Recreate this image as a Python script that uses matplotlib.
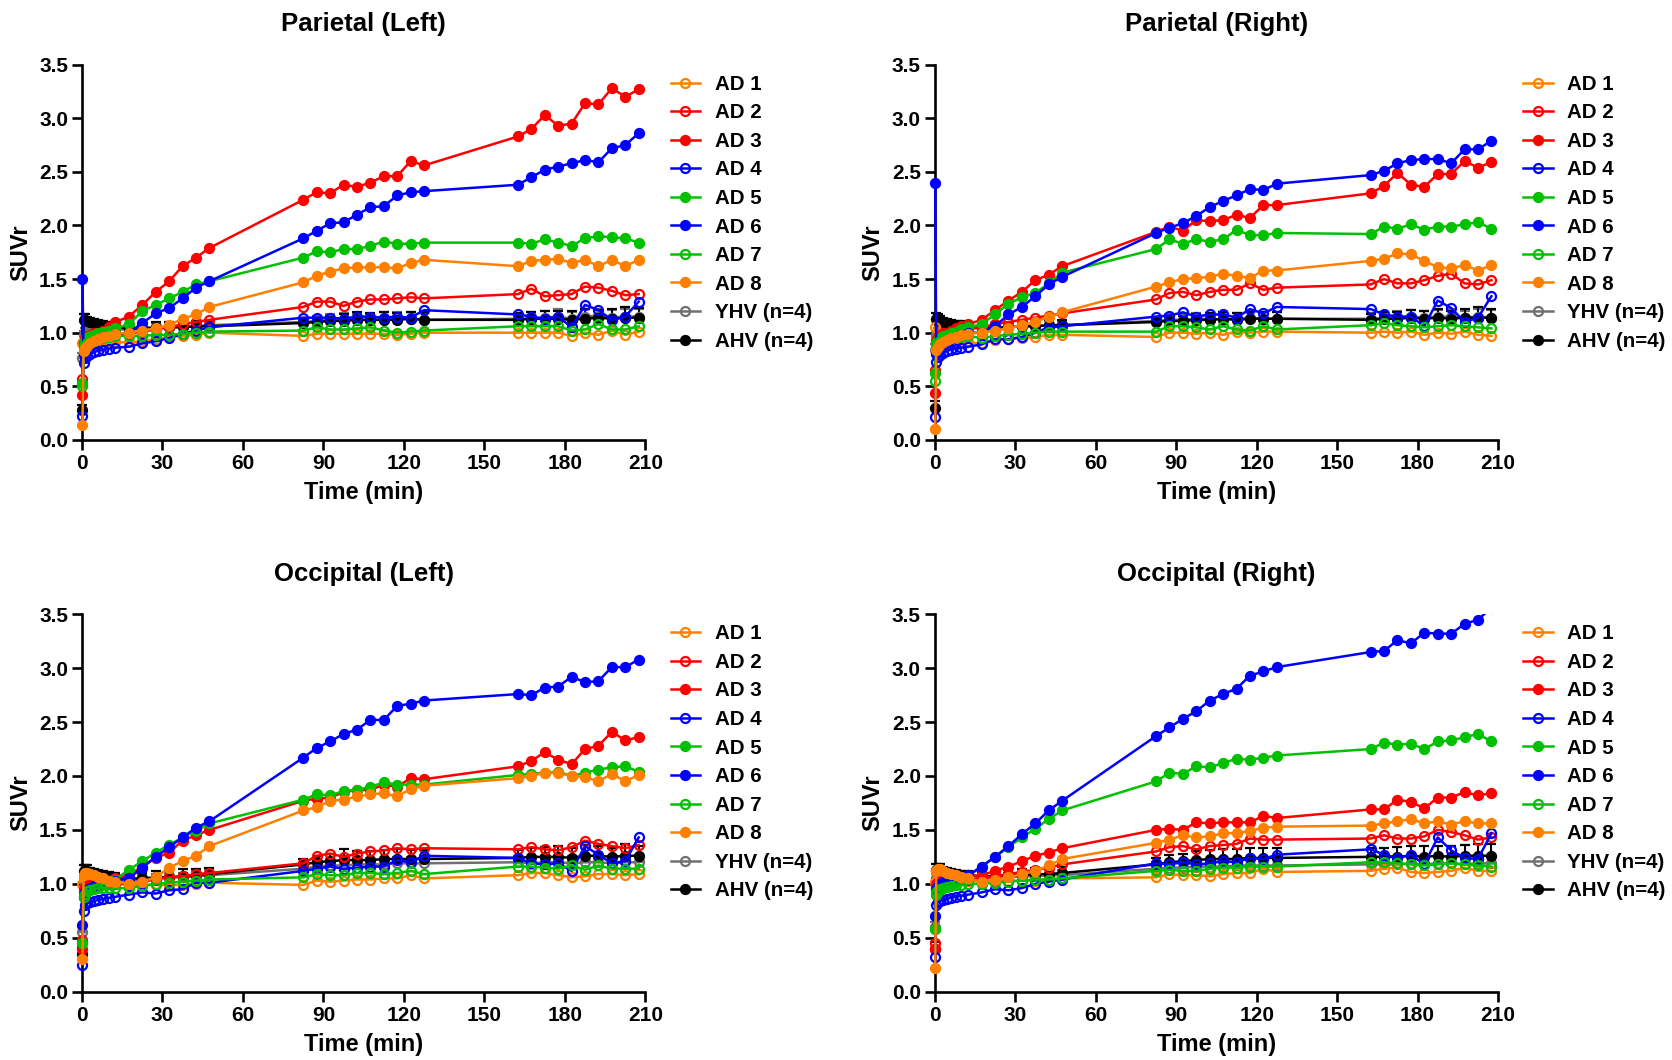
import matplotlib
matplotlib.use("Agg")
import matplotlib.pyplot as plt
from matplotlib.lines import Line2D
from matplotlib.patches import Rectangle

plt.rcParams["font.family"] = ["Liberation Sans", "DejaVu Sans"]
plt.rcParams["font.weight"] = "bold"

# frame mid-times (min)
t_min = [0.2, 0.6, 1.2, 2, 3, 4.5, 6, 8, 10, 12.5,
         17.5, 22.5, 27.5, 32.5, 37.5, 42.5, 47.5,
         82.5, 87.5, 92.5, 97.5, 102.5, 107.5, 112.5, 117.5, 122.5, 127.5,
         162.5, 167.5, 172.5, 177.5, 182.5, 187.5, 192.5, 197.5, 202.5, 207.5]

series_labels = ["AD 1", "AD 2", "AD 3", "AD 4", "AD 5", "AD 6", "AD 7", "AD 8"]
control_labels = ["YHV (n=4)", "AHV (n=4)"]
panel_titles = ["Parietal (Left)", "Parietal (Right)", "Occipital (Left)", "Occipital (Right)"]
x_ticks = [0, 30, 60, 90, 120, 150, 180, 210]
y_ticks = [0.0, 0.5, 1.0, 1.5, 2.0, 2.5, 3.0, 3.5]

# ---- Parietal (Left)
pl_ad1 = [0.90, 0.83, 0.85, 0.87, 0.88, 0.89, 0.90, 0.90, 0.91, 0.91, 0.91, 0.92, 0.94, 0.96, 0.97, 0.98, 1.00,
          0.97, 0.99, 0.99, 0.99, 0.99, 0.99, 0.99, 0.98, 0.99, 1.00, 1.00, 1.00, 1.00, 1.00, 0.97, 1.00, 0.98, 1.02, 0.98, 1.01]
pl_ad2 = [0.57, 0.90, 0.93, 0.95, 0.96, 0.97, 0.98, 0.98, 0.99, 0.99, 0.99, 1.01, 1.03, 1.05, 1.08, 1.10, 1.12,
          1.24, 1.29, 1.29, 1.25, 1.29, 1.31, 1.31, 1.32, 1.33, 1.32, 1.36, 1.41, 1.34, 1.35, 1.36, 1.43, 1.42, 1.39, 1.35, 1.36]
pl_ad3 = [0.42, 0.90, 0.95, 0.97, 0.98, 1.00, 1.00, 1.02, 1.05, 1.10, 1.15, 1.26, 1.38, 1.48, 1.62, 1.70, 1.79,
          2.24, 2.31, 2.30, 2.38, 2.36, 2.40, 2.46, 2.46, 2.60, 2.56, 2.83, 2.90, 3.03, 2.93, 2.95, 3.14, 3.13, 3.28, 3.20, 3.27]
pl_ad4 = [0.22, 0.72, 0.76, 0.78, 0.80, 0.82, 0.83, 0.84, 0.85, 0.86, 0.87, 0.90, 0.92, 0.95, 0.99, 1.02, 1.05,
          1.14, 1.14, 1.14, 1.13, 1.15, 1.15, 1.14, 1.15, 1.14, 1.21, 1.17, 1.15, 1.13, 1.15, 1.05, 1.26, 1.21, 1.12, 1.15, 1.29]
pl_ad5 = [0.53, 0.88, 0.92, 0.95, 0.97, 0.98, 1.00, 1.01, 1.02, 1.04, 1.08, 1.20, 1.26, 1.32, 1.38, 1.45, 1.48,
          1.70, 1.76, 1.75, 1.78, 1.78, 1.81, 1.85, 1.83, 1.83, 1.84, 1.84, 1.83, 1.87, 1.84, 1.81, 1.88, 1.90, 1.89, 1.88, 1.84]
pl_ad6 = [1.50, 0.80, 0.85, 0.88, 0.90, 0.92, 0.94, 0.96, 0.97, 0.99, 1.00, 1.09, 1.18, 1.23, 1.32, 1.42, 1.48,
          1.88, 1.95, 2.02, 2.03, 2.10, 2.17, 2.18, 2.28, 2.31, 2.32, 2.38, 2.45, 2.52, 2.55, 2.58, 2.61, 2.59, 2.72, 2.75, 2.86]
pl_ad7 = [0.50, 0.85, 0.88, 0.90, 0.92, 0.93, 0.94, 0.95, 0.96, 0.97, 0.97, 0.97, 0.98, 0.98, 0.99, 1.00, 1.01,
          1.02, 1.05, 1.03, 1.03, 1.04, 1.05, 1.02, 1.00, 1.01, 1.02, 1.06, 1.06, 1.06, 1.06, 1.02, 1.03, 1.08, 1.03, 1.03, 1.06]
pl_ad8 = [0.14, 0.83, 0.86, 0.88, 0.90, 0.92, 0.94, 0.96, 0.97, 0.99, 1.00, 1.02, 1.04, 1.07, 1.13, 1.17, 1.24,
          1.47, 1.53, 1.57, 1.60, 1.61, 1.61, 1.61, 1.60, 1.65, 1.68, 1.62, 1.67, 1.68, 1.69, 1.65, 1.68, 1.62, 1.68, 1.62, 1.68]
pl_yhv = [0.76, 0.98, 1.00, 1.00, 1.01, 1.02, 1.02, 1.03, 1.03, 1.03, 1.03, 1.04, 1.05, 1.05, 1.06, 1.06, 1.07,
          1.10, 1.11, 1.12, 1.12, 1.12, 1.12, 1.13, 1.13, 1.13, 1.12, 1.13, 1.13, 1.14, 1.15, 1.13, 1.15, 1.16, 1.14, 1.15, 1.15]
pl_ahv = [0.28, 1.12, 1.12, 1.11, 1.10, 1.09, 1.08, 1.07, 1.06, 1.05, 1.04, 1.04, 1.05, 1.05, 1.05, 1.06, 1.06,
          1.09, 1.10, 1.11, 1.11, 1.12, 1.12, 1.12, 1.12, 1.13, 1.12, 1.12, 1.13, 1.13, 1.13, 1.12, 1.13, 1.14, 1.13, 1.14, 1.14]
pl_yhv_err = [0.05, 0.04, 0.04, 0.04, 0.03, 0.03, 0.03, 0.03, 0.03, 0.03, 0.03, 0.03, 0.04, 0.04, 0.04, 0.04, 0.04,
              0.04, 0.05, 0.05, 0.06, 0.05, 0.05, 0.06, 0.06, 0.06, 0.06, 0.05, 0.06, 0.06, 0.07, 0.06, 0.07, 0.06, 0.07, 0.07, 0.07]
pl_ahv_err = [0.05, 0.05, 0.05, 0.04, 0.04, 0.04, 0.04, 0.04, 0.04, 0.04, 0.03, 0.04, 0.05, 0.05, 0.05, 0.05, 0.05,
              0.04, 0.05, 0.05, 0.06, 0.07, 0.06, 0.07, 0.06, 0.06, 0.07, 0.06, 0.06, 0.07, 0.07, 0.08, 0.09, 0.07, 0.09, 0.10, 0.09]

# ---- Parietal (Right)
pr_ad1 = [1.05, 0.84, 0.86, 0.87, 0.88, 0.89, 0.90, 0.90, 0.91, 0.91, 0.90, 0.93, 0.94, 0.95, 0.96, 0.98, 0.98,
          0.96, 1.00, 1.00, 0.99, 1.00, 0.98, 1.01, 1.00, 1.01, 1.01, 1.00, 1.01, 1.00, 1.01, 0.98, 1.00, 0.99, 1.01, 0.98, 0.97]
pr_ad2 = [0.65, 0.92, 0.95, 0.97, 0.98, 0.99, 1.00, 1.01, 1.02, 1.04, 1.05, 1.08, 1.10, 1.12, 1.14, 1.16, 1.18,
          1.31, 1.37, 1.38, 1.35, 1.38, 1.40, 1.40, 1.46, 1.40, 1.42, 1.45, 1.50, 1.46, 1.46, 1.49, 1.53, 1.55, 1.46, 1.45, 1.49]
pr_ad3 = [0.44, 0.93, 0.96, 0.98, 1.00, 1.00, 1.02, 1.04, 1.06, 1.08, 1.12, 1.21, 1.30, 1.38, 1.49, 1.54, 1.62,
          1.94, 1.99, 1.95, 2.05, 2.04, 2.05, 2.10, 2.07, 2.19, 2.19, 2.30, 2.37, 2.49, 2.38, 2.36, 2.48, 2.48, 2.60, 2.54, 2.59]
pr_ad4 = [0.21, 0.73, 0.77, 0.79, 0.81, 0.83, 0.84, 0.85, 0.86, 0.87, 0.89, 0.94, 0.94, 0.96, 1.00, 1.05, 1.06,
          1.15, 1.16, 1.19, 1.15, 1.17, 1.17, 1.14, 1.22, 1.18, 1.24, 1.22, 1.17, 1.15, 1.15, 1.06, 1.30, 1.23, 1.10, 1.14, 1.34]
pr_ad5 = [0.62, 0.90, 0.93, 0.95, 0.97, 0.98, 1.00, 1.01, 1.03, 1.05, 1.08, 1.17, 1.27, 1.33, 1.37, 1.46, 1.56,
          1.78, 1.87, 1.83, 1.87, 1.85, 1.87, 1.96, 1.91, 1.91, 1.93, 1.92, 1.99, 1.97, 2.01, 1.96, 1.99, 1.99, 2.01, 2.03, 1.97]
pr_ad6 = [2.40, 0.80, 0.85, 0.88, 0.90, 0.92, 0.94, 0.96, 0.98, 1.00, 1.00, 1.06, 1.17, 1.24, 1.34, 1.45, 1.52,
          1.93, 1.98, 2.02, 2.09, 2.17, 2.23, 2.28, 2.34, 2.33, 2.39, 2.47, 2.51, 2.58, 2.61, 2.62, 2.62, 2.58, 2.71, 2.71, 2.79]
pr_ad7 = [0.55, 0.87, 0.90, 0.92, 0.93, 0.94, 0.95, 0.96, 0.96, 0.97, 0.95, 0.97, 0.98, 0.99, 1.00, 1.01, 1.01,
          1.01, 1.06, 1.06, 1.05, 1.03, 1.06, 1.03, 1.02, 1.06, 1.03, 1.07, 1.09, 1.07, 1.06, 1.05, 1.06, 1.07, 1.06, 1.05, 1.04]
pr_ad8 = [0.10, 0.84, 0.87, 0.89, 0.91, 0.93, 0.95, 0.96, 0.98, 0.99, 1.00, 1.02, 1.04, 1.07, 1.10, 1.15, 1.19,
          1.43, 1.47, 1.50, 1.51, 1.52, 1.55, 1.53, 1.51, 1.58, 1.58, 1.67, 1.69, 1.74, 1.73, 1.67, 1.61, 1.60, 1.63, 1.58, 1.63]
pr_yhv = [0.84, 0.98, 1.00, 1.01, 1.01, 1.02, 1.02, 1.03, 1.03, 1.04, 1.04, 1.05, 1.05, 1.06, 1.06, 1.07, 1.07,
          1.11, 1.12, 1.12, 1.13, 1.13, 1.12, 1.13, 1.14, 1.13, 1.13, 1.13, 1.14, 1.14, 1.15, 1.14, 1.15, 1.15, 1.14, 1.15, 1.14]
pr_ahv = [0.30, 1.13, 1.12, 1.11, 1.10, 1.09, 1.08, 1.07, 1.07, 1.06, 1.05, 1.05, 1.05, 1.06, 1.06, 1.07, 1.07,
          1.10, 1.11, 1.11, 1.12, 1.12, 1.13, 1.12, 1.13, 1.13, 1.13, 1.12, 1.13, 1.13, 1.14, 1.13, 1.14, 1.13, 1.14, 1.14, 1.14]
pr_yhv_err = [0.05, 0.04, 0.04, 0.03, 0.03, 0.03, 0.03, 0.03, 0.03, 0.03, 0.03, 0.03, 0.03, 0.04, 0.04, 0.04, 0.04,
              0.04, 0.05, 0.05, 0.05, 0.05, 0.05, 0.05, 0.06, 0.06, 0.06, 0.05, 0.05, 0.06, 0.06, 0.06, 0.06, 0.07, 0.06, 0.07, 0.07]
pr_ahv_err = [0.06, 0.05, 0.05, 0.05, 0.04, 0.04, 0.04, 0.04, 0.04, 0.04, 0.03, 0.04, 0.04, 0.05, 0.05, 0.05, 0.05,
              0.04, 0.05, 0.05, 0.05, 0.06, 0.06, 0.06, 0.06, 0.06, 0.06, 0.05, 0.06, 0.06, 0.07, 0.07, 0.08, 0.07, 0.08, 0.10, 0.08]

# ---- Occipital (Left)
ol_ad1 = [1.00, 1.05, 1.05, 1.04, 1.03, 1.02, 1.01, 1.00, 1.00, 1.00, 0.99, 0.99, 0.99, 0.99, 0.99, 1.00, 1.01,
          0.99, 1.03, 1.02, 1.03, 1.04, 1.04, 1.05, 1.05, 1.08, 1.05, 1.08, 1.10, 1.10, 1.08, 1.06, 1.07, 1.09, 1.09, 1.08, 1.09]
ol_ad2 = [0.48, 0.95, 0.97, 0.99, 1.00, 1.00, 1.00, 1.00, 1.00, 1.00, 1.00, 1.02, 1.04, 1.06, 1.07, 1.09, 1.10,
          1.19, 1.26, 1.28, 1.25, 1.28, 1.30, 1.31, 1.33, 1.32, 1.33, 1.32, 1.34, 1.32, 1.31, 1.34, 1.40, 1.37, 1.35, 1.33, 1.36]
ol_ad3 = [0.40, 0.92, 0.95, 0.97, 0.98, 1.00, 1.00, 1.02, 1.03, 1.05, 1.08, 1.16, 1.24, 1.29, 1.40, 1.45, 1.50,
          1.77, 1.79, 1.80, 1.85, 1.87, 1.87, 1.92, 1.90, 1.98, 1.97, 2.09, 2.14, 2.22, 2.15, 2.11, 2.25, 2.28, 2.41, 2.33, 2.36]
ol_ad4 = [0.25, 0.75, 0.80, 0.82, 0.83, 0.84, 0.85, 0.86, 0.87, 0.88, 0.90, 0.92, 0.91, 0.94, 0.95, 1.01, 1.01,
          1.12, 1.14, 1.16, 1.14, 1.15, 1.16, 1.16, 1.22, 1.20, 1.26, 1.24, 1.19, 1.18, 1.19, 1.12, 1.35, 1.27, 1.19, 1.21, 1.43]
ol_ad5 = [0.45, 0.88, 0.91, 0.93, 0.95, 0.97, 0.98, 1.00, 1.02, 1.04, 1.13, 1.21, 1.29, 1.36, 1.43, 1.49, 1.56,
          1.78, 1.83, 1.82, 1.86, 1.87, 1.90, 1.94, 1.92, 1.92, 1.92, 2.01, 2.02, 2.03, 2.04, 2.00, 2.03, 2.06, 2.08, 2.09, 2.04]
ol_ad6 = [0.62, 0.88, 0.92, 0.94, 0.96, 0.98, 0.99, 1.00, 1.01, 1.03, 1.05, 1.15, 1.25, 1.34, 1.43, 1.52, 1.58,
          2.17, 2.26, 2.32, 2.39, 2.43, 2.52, 2.52, 2.65, 2.67, 2.70, 2.76, 2.75, 2.82, 2.83, 2.92, 2.87, 2.88, 3.01, 3.01, 3.08]
ol_ad7 = [0.45, 0.88, 0.91, 0.93, 0.94, 0.95, 0.96, 0.96, 0.96, 0.96, 0.96, 0.98, 1.00, 1.01, 1.02, 1.03, 1.04,
          1.06, 1.09, 1.08, 1.08, 1.10, 1.10, 1.09, 1.10, 1.12, 1.09, 1.16, 1.16, 1.15, 1.14, 1.17, 1.13, 1.17, 1.14, 1.14, 1.14]
ol_ad8 = [0.30, 1.08, 1.10, 1.10, 1.09, 1.08, 1.06, 1.05, 1.03, 1.02, 1.00, 1.02, 1.06, 1.15, 1.21, 1.26, 1.35,
          1.68, 1.71, 1.77, 1.78, 1.81, 1.83, 1.84, 1.81, 1.88, 1.91, 1.98, 2.00, 2.03, 2.03, 2.00, 1.99, 1.95, 2.02, 1.95, 2.01]
ol_yhv = [0.55, 1.03, 1.04, 1.04, 1.04, 1.03, 1.03, 1.03, 1.03, 1.03, 1.03, 1.04, 1.05, 1.06, 1.06, 1.07, 1.08,
          1.14, 1.16, 1.17, 1.17, 1.18, 1.18, 1.18, 1.19, 1.19, 1.19, 1.20, 1.19, 1.20, 1.20, 1.19, 1.20, 1.20, 1.19, 1.20, 1.20]
ol_ahv = [0.35, 1.12, 1.12, 1.12, 1.11, 1.10, 1.09, 1.08, 1.07, 1.06, 1.05, 1.05, 1.06, 1.06, 1.07, 1.08, 1.09,
          1.18, 1.20, 1.21, 1.22, 1.22, 1.22, 1.23, 1.23, 1.23, 1.23, 1.24, 1.25, 1.25, 1.25, 1.24, 1.26, 1.26, 1.25, 1.26, 1.26]
ol_yhv_err = [0.05, 0.04, 0.04, 0.04, 0.03, 0.03, 0.03, 0.03, 0.03, 0.03, 0.03, 0.04, 0.04, 0.04, 0.04, 0.05, 0.05,
              0.05, 0.05, 0.06, 0.06, 0.06, 0.06, 0.06, 0.06, 0.06, 0.06, 0.06, 0.06, 0.07, 0.07, 0.07, 0.07, 0.07, 0.07, 0.07, 0.07]
ol_ahv_err = [0.06, 0.05, 0.05, 0.05, 0.04, 0.04, 0.04, 0.04, 0.04, 0.04, 0.04, 0.05, 0.06, 0.06, 0.07, 0.06, 0.06,
              0.05, 0.06, 0.07, 0.10, 0.08, 0.08, 0.08, 0.09, 0.08, 0.08, 0.07, 0.08, 0.09, 0.10, 0.09, 0.10, 0.09, 0.08, 0.11, 0.09]

# ---- Occipital (Right)
or_ad1 = [1.02, 1.12, 1.13, 1.12, 1.10, 1.08, 1.06, 1.05, 1.04, 1.03, 1.02, 1.03, 1.03, 1.03, 1.03, 1.04, 1.05,
          1.06, 1.09, 1.08, 1.08, 1.07, 1.09, 1.10, 1.10, 1.14, 1.11, 1.12, 1.14, 1.15, 1.11, 1.10, 1.11, 1.12, 1.15, 1.12, 1.12]
or_ad2 = [0.45, 0.98, 1.00, 1.01, 1.02, 1.02, 1.03, 1.03, 1.04, 1.04, 1.05, 1.07, 1.09, 1.11, 1.13, 1.15, 1.18,
          1.30, 1.34, 1.35, 1.32, 1.35, 1.36, 1.37, 1.42, 1.41, 1.41, 1.42, 1.45, 1.42, 1.42, 1.44, 1.50, 1.48, 1.45, 1.41, 1.43]
or_ad3 = [0.40, 1.00, 1.02, 1.03, 1.04, 1.04, 1.05, 1.05, 1.06, 1.07, 1.08, 1.12, 1.16, 1.21, 1.26, 1.29, 1.33,
          1.50, 1.51, 1.50, 1.57, 1.56, 1.57, 1.57, 1.57, 1.63, 1.61, 1.69, 1.69, 1.78, 1.76, 1.70, 1.80, 1.80, 1.85, 1.82, 1.84]
or_ad4 = [0.32, 0.80, 0.83, 0.84, 0.85, 0.86, 0.87, 0.88, 0.89, 0.90, 0.92, 0.95, 0.94, 0.96, 1.00, 1.02, 1.04,
          1.19, 1.18, 1.20, 1.18, 1.19, 1.21, 1.20, 1.24, 1.23, 1.27, 1.32, 1.27, 1.24, 1.27, 1.18, 1.43, 1.31, 1.24, 1.23, 1.47]
or_ad5 = [0.58, 0.90, 0.92, 0.94, 0.96, 0.98, 1.00, 1.02, 1.04, 1.07, 1.16, 1.25, 1.34, 1.43, 1.51, 1.60, 1.68,
          1.95, 2.03, 2.02, 2.09, 2.08, 2.12, 2.16, 2.15, 2.17, 2.19, 2.25, 2.31, 2.29, 2.30, 2.25, 2.32, 2.33, 2.36, 2.39, 2.32]
or_ad6 = [0.70, 0.95, 0.98, 1.00, 1.02, 1.03, 1.04, 1.05, 1.06, 1.08, 1.16, 1.25, 1.35, 1.46, 1.56, 1.68, 1.77,
          2.37, 2.45, 2.53, 2.60, 2.70, 2.76, 2.81, 2.93, 2.97, 3.01, 3.15, 3.16, 3.26, 3.23, 3.33, 3.32, 3.32, 3.41, 3.45, 3.56]
or_ad7 = [0.58, 0.92, 0.94, 0.95, 0.96, 0.97, 0.98, 0.99, 0.99, 1.00, 1.00, 1.01, 1.02, 1.03, 1.04, 1.04, 1.05,
          1.12, 1.13, 1.12, 1.12, 1.14, 1.15, 1.15, 1.16, 1.16, 1.16, 1.20, 1.20, 1.19, 1.18, 1.17, 1.18, 1.19, 1.18, 1.17, 1.16]
or_ad8 = [0.22, 1.12, 1.14, 1.14, 1.12, 1.10, 1.09, 1.08, 1.06, 1.05, 1.02, 1.04, 1.06, 1.09, 1.12, 1.17, 1.23,
          1.38, 1.41, 1.45, 1.43, 1.44, 1.47, 1.47, 1.49, 1.52, 1.53, 1.54, 1.56, 1.58, 1.60, 1.56, 1.58, 1.55, 1.58, 1.56, 1.56]
or_yhv = [0.60, 1.05, 1.06, 1.06, 1.05, 1.05, 1.05, 1.05, 1.05, 1.05, 1.05, 1.06, 1.06, 1.07, 1.07, 1.08, 1.08,
          1.14, 1.15, 1.15, 1.16, 1.16, 1.16, 1.17, 1.17, 1.17, 1.17, 1.18, 1.18, 1.18, 1.19, 1.18, 1.19, 1.19, 1.18, 1.19, 1.19]
or_ahv = [0.40, 1.13, 1.13, 1.13, 1.12, 1.11, 1.10, 1.09, 1.08, 1.08, 1.07, 1.07, 1.08, 1.08, 1.09, 1.09, 1.10,
          1.18, 1.20, 1.21, 1.22, 1.23, 1.23, 1.23, 1.24, 1.24, 1.24, 1.25, 1.25, 1.25, 1.26, 1.25, 1.26, 1.25, 1.26, 1.26, 1.26]
or_yhv_err = [0.05, 0.04, 0.04, 0.04, 0.03, 0.03, 0.03, 0.03, 0.03, 0.03, 0.03, 0.04, 0.04, 0.04, 0.04, 0.05, 0.05,
              0.05, 0.05, 0.05, 0.06, 0.06, 0.06, 0.06, 0.06, 0.06, 0.06, 0.06, 0.06, 0.06, 0.07, 0.07, 0.07, 0.07, 0.07, 0.07, 0.07]
or_ahv_err = [0.06, 0.05, 0.05, 0.05, 0.04, 0.04, 0.04, 0.04, 0.04, 0.04, 0.04, 0.05, 0.05, 0.06, 0.06, 0.06, 0.06,
              0.06, 0.07, 0.07, 0.08, 0.08, 0.09, 0.09, 0.09, 0.09, 0.09, 0.08, 0.08, 0.09, 0.09, 0.10, 0.09, 0.10, 0.10, 0.11, 0.11]

panels = [
    ([pl_ad1, pl_ad2, pl_ad3, pl_ad4, pl_ad5, pl_ad6, pl_ad7, pl_ad8], pl_yhv, pl_yhv_err, pl_ahv, pl_ahv_err),
    ([pr_ad1, pr_ad2, pr_ad3, pr_ad4, pr_ad5, pr_ad6, pr_ad7, pr_ad8], pr_yhv, pr_yhv_err, pr_ahv, pr_ahv_err),
    ([ol_ad1, ol_ad2, ol_ad3, ol_ad4, ol_ad5, ol_ad6, ol_ad7, ol_ad8], ol_yhv, ol_yhv_err, ol_ahv, ol_ahv_err),
    ([or_ad1, or_ad2, or_ad3, or_ad4, or_ad5, or_ad6, or_ad7, or_ad8], or_yhv, or_yhv_err, or_ahv, or_ahv_err),
]

ORANGE, RED, BLUE, GREEN = "#ff8000", "#ff0000", "#0000ff", "#00c000"
ad_colors = [ORANGE, RED, RED, BLUE, GREEN, BLUE, GREEN, ORANGE]
ad_open = [True, True, False, True, False, False, True, False]

# axes rectangles in figure fractions
rects = [
    (0.049, 0.585, 0.337, 0.354),
    (0.559, 0.585, 0.337, 0.354),
    (0.049, 0.0645, 0.337, 0.356),
    (0.559, 0.0645, 0.337, 0.356),
]

LW, MS, MEW = 1.8, 6.5, 1.6

fig = plt.figure(figsize=(16.72, 10.6), dpi=100)

for (ad_vals, yhv, yhv_err, ahv, ahv_err), rect, title in zip(panels, rects, panel_titles):
    ax = fig.add_axes(rect)
    # let markers at t~0 spill left of the axis, but clip anything above 3.5
    clip = Rectangle((-0.05, -0.05), 1.1, 1.05, transform=ax.transAxes,
                     facecolor="none", edgecolor="none")
    ax.add_patch(clip)

    handles = []
    for vals, col, is_open, lab in zip(ad_vals, ad_colors, ad_open, series_labels):
        ln, = ax.plot(t_min, vals, color=col, lw=LW, marker="o", ms=MS, mew=MEW,
                      mfc="none" if is_open else col, mec=col, zorder=3, label=lab)
        ln.set_clip_path(clip)
        handles.append(ln)

    ctrl = [(yhv, yhv_err, "#707070", True, control_labels[0]),
            (ahv, ahv_err, "black", False, control_labels[1])]
    for vals, err, col, is_open, lab in ctrl:
        eb = ax.errorbar(t_min, vals, yerr=[[0] * len(err), err], color=col, lw=LW,
                         marker="o", ms=MS, mew=MEW, mfc="none" if is_open else col, mec=col,
                         ecolor=col, elinewidth=1.5, capsize=3.5, capthick=1.5, zorder=2)
        for art in eb.get_children():
            art.set_clip_path(clip)
        handles.append(Line2D([], [], color=col, lw=LW, marker="o", ms=MS, mew=MEW,
                              mfc="none" if is_open else col, mec=col, label=lab))

    ax.set_xlim(0, 210)
    ax.set_ylim(0, 3.5)
    ax.set_xticks(x_ticks)
    ax.set_yticks(y_ticks)
    ax.set_yticklabels([f"{v:.1f}" for v in y_ticks])
    for s in ["top", "right"]:
        ax.spines[s].set_visible(False)
    for s in ["left", "bottom"]:
        ax.spines[s].set_linewidth(1.9)
    ax.tick_params(direction="out", length=7, width=1.9, labelsize=15, pad=3)
    for lab in ax.get_xticklabels() + ax.get_yticklabels():
        lab.set_fontweight("bold")
    ax.set_xlabel("Time (min)", fontsize=17, fontweight="bold", labelpad=6)
    ax.set_ylabel("SUVr", fontsize=17, fontweight="bold", labelpad=5)
    ax.set_title(title, fontsize=18.5, fontweight="bold", pad=24)

    leg = ax.legend(handles=handles, loc="upper left", bbox_to_anchor=(1.03, 0.995),
                    frameon=False, fontsize=14.8, handlelength=1.45, handletextpad=0.7,
                    labelspacing=0.465, borderaxespad=0.0)
    for txt in leg.get_texts():
        txt.set_fontweight("bold")

fig.savefig("out.png", dpi=100)
